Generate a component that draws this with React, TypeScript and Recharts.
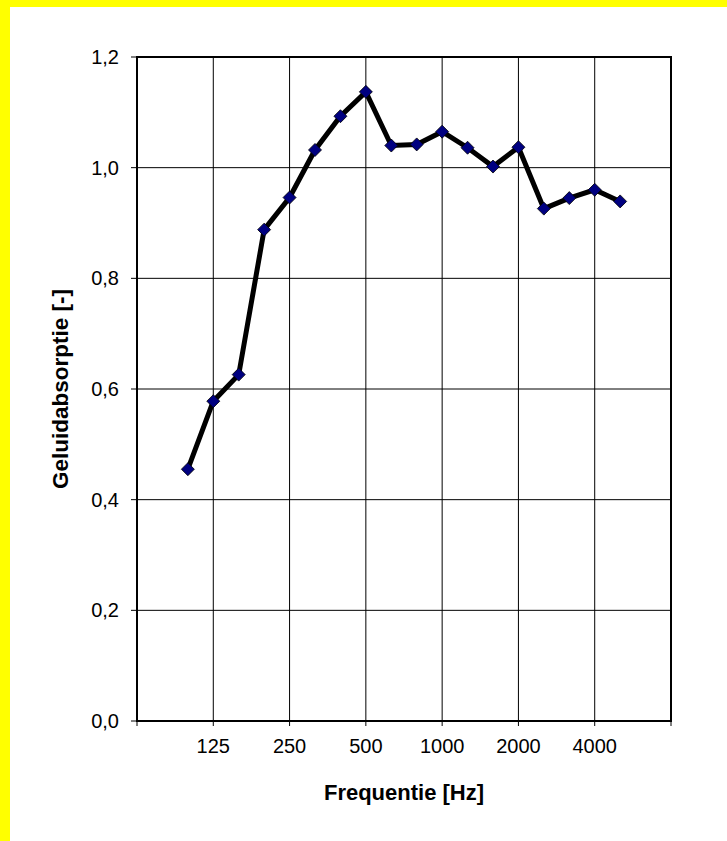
import React from "react"
import { LineChart, Line, XAxis, YAxis, CartesianGrid, ReferenceArea, Label } from "recharts"

// third-octave bands, plotted by band index (0 = 100 Hz)
const frequencies = [100, 125, 160, 200, 250, 315, 400, 500, 630, 800, 1000, 1250, 1600, 2000, 2500, 3150, 4000, 5000]
const absorption = [0.455, 0.578, 0.626, 0.888, 0.946, 1.032, 1.093, 1.137, 1.04, 1.042, 1.065, 1.036, 1.002, 1.037, 0.926, 0.945, 0.96, 0.939]

const xTicks = [-2, 1, 4, 7, 10, 13, 16, 19]
const xTickLabels = ["", "125", "250", "500", "1000", "2000", "4000", ""]
const yTicks = [0, 0.2, 0.4, 0.6, 0.8, 1.0, 1.2]

const data = frequencies.map((freq, i) => ({ band: i, freq, value: absorption[i] }))

const font = "'Liberation Sans', Arial, sans-serif"

function DiamondDot(props: any) {
  const { cx, cy, index } = props
  if (cx == null || cy == null) return null
  const r = 6.5
  return (
    <polygon
      key={`dot-${index}`}
      points={`${cx},${cy - r} ${cx + r},${cy} ${cx},${cy + r} ${cx - r},${cy}`}
      fill="#000080"
      stroke="#000"
      strokeWidth={0.8}
    />
  )
}

export default function App() {
  return (
    <div style={{ position: "absolute", left: 0, top: 0, width: 727, height: 841, background: "#ffff00" }}>
      <div style={{ position: "absolute", left: 10, top: 7, width: 717, height: 834, background: "#fff" }} />
      <div style={{ position: "absolute", left: 0, top: 0 }}>
        <LineChart width={727} height={841} data={data} margin={{ top: 57, right: 56, bottom: 80, left: 0 }}>
          <CartesianGrid stroke="#000" strokeWidth={1} />
          <XAxis
            dataKey="band"
            type="number"
            domain={[-2, 19]}
            ticks={xTicks}
            interval={0}
            height={40}
            axisLine={false}
            tickLine={{ stroke: "#000" }}
            tickSize={5}
            tickMargin={13}
            tick={{ fontSize: 20, fill: "#000", fontFamily: font }}
            tickFormatter={(v: number) => xTickLabels[xTicks.indexOf(v)] ?? ""}
          >
            <Label
              content={() => (
                <text x={404} y={800} textAnchor="middle" fontSize={22} fontWeight="bold" fontFamily={font} fill="#000">
                  Frequentie [Hz]
                </text>
              )}
            />
          </XAxis>
          <YAxis
            type="number"
            domain={[0, 1.2]}
            ticks={yTicks}
            width={137}
            axisLine={false}
            tickLine={{ stroke: "#000" }}
            tickSize={6}
            tickMargin={12}
            tick={{ fontSize: 20, fill: "#000", fontFamily: font }}
            tickFormatter={(v: number) => v.toFixed(1).replace(".", ",")}
          >
            <Label
              content={() => (
                <text
                  x={60}
                  y={389}
                  transform="rotate(-90 60 389)"
                  textAnchor="middle"
                  dominantBaseline="central"
                  fontSize={22.5}
                  fontWeight="bold"
                  fontFamily={font}
                  fill="#000"
                >
                  Geluidabsorptie [-]
                </text>
              )}
            />
          </YAxis>
          <ReferenceArea x1={-2} x2={19} y1={0} y2={1.2} fill="none" stroke="#000" strokeWidth={2} />
          <Line
            dataKey="value"
            stroke="#000"
            strokeWidth={5}
            dot={DiamondDot}
            activeDot={false}
            isAnimationActive={false}
          />
        </LineChart>
      </div>
    </div>
  )
}
